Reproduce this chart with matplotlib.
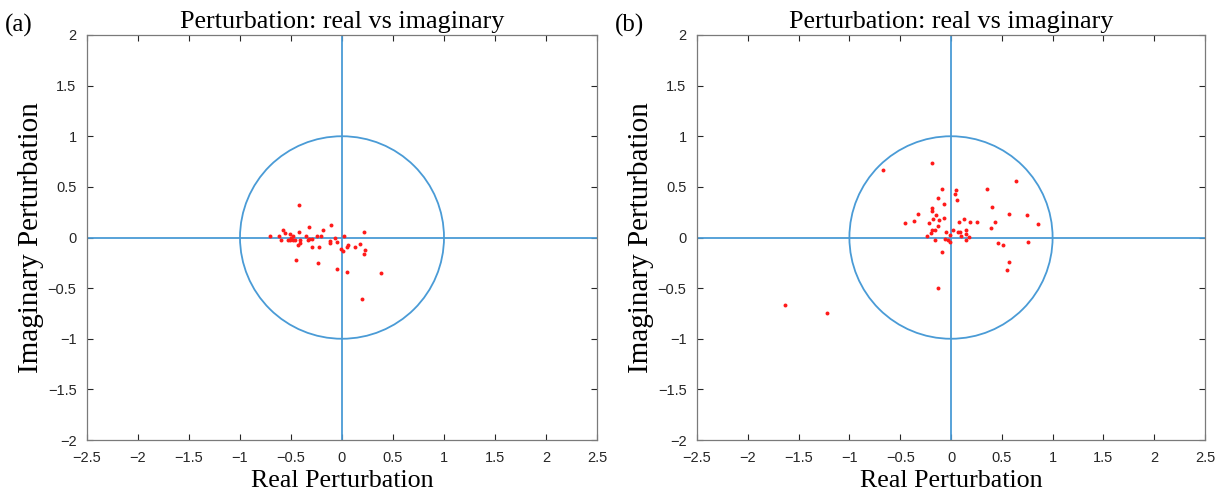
import matplotlib
matplotlib.use("Agg")
import matplotlib.pyplot as plt
from matplotlib.patches import Circle

# ---- data ----
a_real = [-0.418, -0.703, -0.614, -0.582, -0.556, -0.595, -0.513, -0.529, -0.507, -0.484,
          -0.464, -0.497, -0.48, -0.425, -0.408, -0.435, -0.415, -0.356, -0.32, -0.327,
          -0.294, -0.337, -0.291, -0.229, -0.245, -0.206, -0.183, -0.111, -0.121, -0.118,
          -0.072, -0.052, -0.448, -0.232, -0.052, 0.016, -0.007, 0.01, 0.049, 0.059,
          0.131, 0.18, 0.219, 0.225, 0.219, 0.052, 0.386, 0.193]
a_imag = [0.323, 0.017, 0.017, 0.076, 0.043, -0.026, 0.033, -0.02, -0.023, -0.026,
          -0.02, -0.007, 0.01, 0.053, -0.023, -0.079, -0.056, 0.017, 0.106, -0.017,
          -0.013, -0.023, -0.089, -0.096, 0.01, 0.01, 0.073, 0.122, -0.033, -0.05,
          -0.007, -0.046, -0.218, -0.251, -0.31, 0.017, -0.116, -0.132, -0.089, -0.073,
          -0.089, -0.063, 0.053, -0.119, -0.165, -0.34, -0.347, -0.611]

b_real = [-0.666, -0.187, -0.085, 0.046, 0.039, -0.125, 0.056, -0.072, -0.184, -0.187,
          -0.148, -0.325, -0.364, -0.449, -0.177, -0.115, -0.069, -0.213, -0.128, -0.19,
          -0.154, -0.197, -0.236, -0.049, 0.016, 0.082, 0.131, 0.184, 0.256, 0.069,
          0.092, 0.148, 0.144, 0.095, 0.18, 0.151, -0.007, -0.062, -0.026, -0.007,
          -0.161, -0.085, -0.125, 0.357, 0.403, 0.433, 0.397, 0.571, 0.637, 0.751,
          0.859, 0.758, 0.466, 0.515, 0.567, 0.547, -1.634, -1.22]
b_imag = [0.667, 0.739, 0.482, 0.469, 0.432, 0.386, 0.366, 0.333, 0.294, 0.257,
          0.224, 0.228, 0.165, 0.139, 0.185, 0.175, 0.188, 0.139, 0.109, 0.079,
          0.073, 0.046, 0.017, 0.056, 0.076, 0.155, 0.182, 0.149, 0.152, 0.059,
          0.056, 0.076, 0.03, 0.01, 0.007, -0.026, 0.02, -0.01, -0.023, -0.04,
          -0.026, -0.145, -0.495, 0.479, 0.297, 0.158, 0.096, 0.234, 0.554, 0.221,
          0.135, -0.047, -0.056, -0.073, -0.24, -0.32, -0.663, -0.743]

x_ticks = [-2.5, -2, -1.5, -1, -0.5, 0, 0.5, 1, 1.5, 2, 2.5]
y_ticks = [-2, -1.5, -1, -0.5, 0, 0.5, 1, 1.5, 2]
title = "Perturbation: real vs imaginary"
panels = ["(a)", "(b)"]

blue = "#4a9bd6"
axis_col = "#262626"
serif = ["Liberation Serif", "DejaVu Serif"]
sans = ["Liberation Sans", "DejaVu Sans"]

def fmt(v):
    s = ("%g" % v)
    return s.replace("-", "\u2212")

fig = plt.figure(figsize=(12.23, 4.96), dpi=100)
rects = [[87/1223, 56/496, 510/1223, 405/496],
         [697/1223, 56/496, 508/1223, 405/496]]

for rect, re, im, lab in zip(rects, [a_real, b_real], [a_imag, b_imag], panels):
    ax = fig.add_axes(rect)
    ax.set_xlim(-2.5, 2.5)
    ax.set_ylim(-2, 2)
    ax.add_patch(Circle((0, 0), 1, fill=False, ec=blue, lw=1.3))
    ax.plot([-2.5, 2.5], [0, 0], color=blue, lw=1.3)
    ax.plot([0, 0], [-2, 2], color=blue, lw=1.3)
    ax.scatter(re, im, s=8, c="#ff1a1a", linewidths=0, zorder=3)
    ax.set_xticks(x_ticks)
    ax.set_yticks(y_ticks)
    ax.set_xticklabels([fmt(v) for v in x_ticks], fontfamily=sans, fontsize=10.5, color=axis_col)
    ax.set_yticklabels([fmt(v) for v in y_ticks], fontfamily=sans, fontsize=10.5, color=axis_col)
    ax.tick_params(direction="in", top=True, right=True, length=4, width=0.8, color=axis_col)
    ax.tick_params(axis="x", pad=8)
    ax.tick_params(axis="y", pad=7.5)
    for sp in ax.spines.values():
        sp.set_color("#7a7a7a")
        sp.set_linewidth(0.9)
    ax.set_title(title, fontfamily=serif, fontsize=18.8, pad=5)
    ax.set_xlabel("Real Perturbation", fontfamily=serif, fontsize=18.7)
    ax.xaxis.set_label_coords(0.5, -47 / 405)
    ax.xaxis.label.set_va("baseline")
    ax.set_ylabel("Imaginary Perturbation", fontfamily=serif, fontsize=21, labelpad=3)
    x0 = rect[0] * 1223
    fig.text((x0 - 82) / 1223, 1 - 25 / 496, lab, fontfamily=serif, fontsize=18,
             va="center", ha="left")

fig.savefig("out.png", dpi=100)
